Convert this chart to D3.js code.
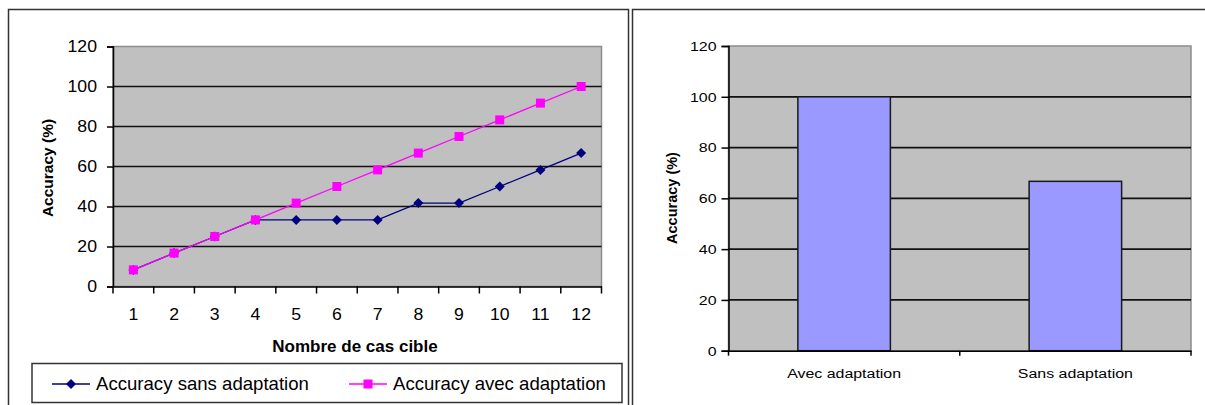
<!DOCTYPE html>
<html><head><meta charset="utf-8">
<script src="https://cdn.jsdelivr.net/npm/d3@7"></script>
<style>
body{margin:0;background:#fff;}
svg{display:block;font-family:"Liberation Sans",Arial,sans-serif;}
</style></head>
<body><svg id="c" width="1205" height="405"></svg>
<script>
// ---- data ----
const cases = [1,2,3,4,5,6,7,8,9,10,11,12];
const sansAdaptation = [8.3,16.7,25,33.3,33.3,33.3,33.3,41.7,41.7,50,58.3,66.7];
const avecAdaptation = [8.3,16.7,25,33.3,41.7,50,58.3,66.7,75,83.3,91.7,100];
const yTicks = [0,20,40,60,80,100,120];
const barCategories = ["Avec adaptation","Sans adaptation"];
const barValues = [100,66.7];
const seriesNames = ["Accuracy sans adaptation","Accuracy avec adaptation"];

const svg = d3.select("#c");
svg.append("rect").attr("width",1205).attr("height",405).attr("fill","#fff");

// frames
svg.append("rect").attr("x",8.5).attr("y",9.5).attr("width",620).attr("height",420)
  .attr("fill","none").attr("stroke","#333").attr("stroke-width",1.5);
svg.append("rect").attr("x",632.5).attr("y",9.5).attr("width",620).attr("height",420)
  .attr("fill","none").attr("stroke","#333").attr("stroke-width",1.5);

// ---------- left line chart ----------
const L = {x0:113, x1:601.5, y0:286.5, y1:46.5};
const xL = d3.scaleBand().domain(cases).range([L.x0,L.x1]);
const yL = d3.scaleLinear().domain([0,120]).range([L.y0,L.y1]);
const gL = svg.append("g");
gL.append("rect").attr("x",L.x0).attr("y",L.y1).attr("width",L.x1-L.x0).attr("height",L.y0-L.y1)
  .attr("fill","#c0c0c0").attr("stroke","#8c8c8c").attr("stroke-width",1.5);
gL.selectAll("line.grid").data(yTicks.filter(d=>d>0&&d<120)).join("line")
  .attr("x1",L.x0).attr("x2",L.x1).attr("y1",d=>yL(d)).attr("y2",d=>yL(d))
  .attr("stroke","#111").attr("stroke-width",1.7);
// y axis
const yAxL = d3.axisLeft(yL).tickValues(yTicks).tickSize(6).tickPadding(8);
gL.append("g").attr("transform",`translate(${L.x0},0)`).call(yAxL)
  .call(g=>{g.select(".domain").attr("stroke","#000").attr("stroke-width",1.5);
    g.selectAll(".tick line").attr("stroke","#000").attr("stroke-width",1.5);
    g.selectAll("text").attr("font-size",16.5).attr("fill","#000").attr("font-family","Liberation Sans, Arial")
      .attr("x",-16/1.07).attr("transform","scale(1.07,1)");});
// x axis with ticks between categories
const xAxL = d3.axisBottom(xL).tickSize(0).tickPadding(22);
gL.append("g").attr("transform",`translate(0,${L.y0})`).call(xAxL)
  .call(g=>{g.select(".domain").attr("stroke","#000").attr("stroke-width",1.5);
    g.selectAll("text").attr("font-size",16.5).attr("fill","#000").attr("font-family","Liberation Sans, Arial")
      .attr("transform","scale(1.07,1)");});
const sepL = cases.map(c=>xL(c)).concat([L.x1]);
gL.selectAll("line.xt").data(sepL).join("line")
  .attr("x1",d=>d).attr("x2",d=>d).attr("y1",L.y0).attr("y2",L.y0+7)
  .attr("stroke","#000").attr("stroke-width",1.5);
// lines
const lineGen = vals => d3.line().x((d,i)=>xL(cases[i])+xL.bandwidth()/2).y(d=>yL(d))(vals);
gL.append("path").attr("d",lineGen(sansAdaptation)).attr("fill","none").attr("stroke","#000080").attr("stroke-width",1.3);
gL.selectAll("path.dia").data(sansAdaptation).join("path")
  .attr("d","M0,-5L5,0L0,5L-5,0Z").attr("fill","#000080")
  .attr("transform",(d,i)=>`translate(${xL(cases[i])+xL.bandwidth()/2},${yL(d)})`);
gL.append("path").attr("d",lineGen(avecAdaptation)).attr("fill","none").attr("stroke","#ff00ff").attr("stroke-width",1.3);
gL.selectAll("rect.sq").data(avecAdaptation).join("rect")
  .attr("x",(d,i)=>xL(cases[i])+xL.bandwidth()/2-4.5).attr("y",d=>yL(d)-4.5)
  .attr("width",9).attr("height",9).attr("fill","#ff00ff");
// titles
gL.append("text").attr("x",355).attr("y",352).attr("text-anchor","middle")
  .attr("font-size",17).attr("font-weight","bold").text("Nombre de cas cible");
gL.append("text").attr("transform","translate(53,168) rotate(-90)").attr("text-anchor","middle")
  .attr("font-size",15.5).attr("font-weight","bold").text("Accuracy (%)");
// legend
gL.append("rect").attr("x",32).attr("y",363.5).attr("width",590).attr("height",39)
  .attr("fill","#fff").attr("stroke","#333").attr("stroke-width",1.5);
const legX = [52,349];
gL.append("line").attr("x1",legX[0]).attr("x2",legX[0]+38).attr("y1",384).attr("y2",384).attr("stroke","#000080").attr("stroke-width",1.3);
gL.append("path").attr("d","M0,-5L5,0L0,5L-5,0Z").attr("fill","#000080").attr("transform",`translate(${legX[0]+19},384)`);
gL.append("line").attr("x1",legX[1]).attr("x2",legX[1]+38).attr("y1",384).attr("y2",384).attr("stroke","#ff00ff").attr("stroke-width",1.3);
gL.append("rect").attr("x",legX[1]+14.5).attr("y",379.5).attr("width",9).attr("height",9).attr("fill","#ff00ff");
gL.selectAll("text.leg").data(seriesNames).join("text")
  .attr("x",(d,i)=>legX[i]+44).attr("y",390).attr("font-size",18.6).attr("fill","#000").text(d=>d);

// ---------- right bar chart ----------
const R = {x0:728.5, x1:1191, y0:350.7, y1:46};
const xR = d3.scaleBand().domain(barCategories).range([R.x0,R.x1]).paddingInner(0.6).paddingOuter(0.3);
const xR0 = d3.scaleBand().domain(barCategories).range([R.x0,R.x1]);
const yR = d3.scaleLinear().domain([0,120]).range([R.y0,R.y1]);
const gR = svg.append("g");
gR.append("rect").attr("x",R.x0).attr("y",R.y1).attr("width",R.x1-R.x0).attr("height",R.y0-R.y1)
  .attr("fill","#c0c0c0").attr("stroke","#8c8c8c").attr("stroke-width",1.5);
gR.selectAll("line.grid").data(yTicks.filter(d=>d>0&&d<120)).join("line")
  .attr("x1",R.x0).attr("x2",R.x1).attr("y1",d=>yR(d)).attr("y2",d=>yR(d))
  .attr("stroke","#111").attr("stroke-width",1.7);
gR.selectAll("rect.bar").data(barValues).join("rect")
  .attr("x",(d,i)=>xR(barCategories[i])).attr("width",xR.bandwidth())
  .attr("y",d=>yR(d)).attr("height",d=>R.y0-yR(d))
  .attr("fill","#9999ff").attr("stroke","#1a1a1a").attr("stroke-width",1.5);
const yAxR = d3.axisLeft(yR).tickValues(yTicks).tickSize(7).tickPadding(5);
gR.append("g").attr("transform",`translate(${R.x0},0)`).call(yAxR)
  .call(g=>{g.select(".domain").attr("stroke","#000").attr("stroke-width",1.5);
    g.selectAll(".tick line").attr("stroke","#000").attr("stroke-width",1.5);
    g.selectAll("text").attr("font-size",13.5).attr("fill","#000").attr("font-family","Liberation Sans, Arial")
      .attr("x",-12/1.18).attr("transform","scale(1.18,1)");});
const xAxR = d3.axisBottom(xR0).tickSize(0).tickPadding(18);
gR.append("g").attr("transform",`translate(0,${R.y0})`).call(xAxR)
  .call(g=>{g.select(".domain").attr("stroke","#000").attr("stroke-width",1.5);
    g.selectAll("text").attr("font-size",13.5).attr("fill","#000").attr("font-family","Liberation Sans, Arial")
      .attr("transform","scale(1.18,1)");});
const sepR = barCategories.map(c=>xR0(c)).concat([R.x1]);
gR.selectAll("line.xt").data(sepR).join("line")
  .attr("x1",d=>d).attr("x2",d=>d).attr("y1",R.y0).attr("y2",R.y0+5)
  .attr("stroke","#000").attr("stroke-width",1.5);
gR.append("text").attr("transform","translate(677,198) rotate(-90)").attr("text-anchor","middle")
  .attr("font-size",14.5).attr("font-weight","bold").text("Accuracy (%)");
</script></body></html>
